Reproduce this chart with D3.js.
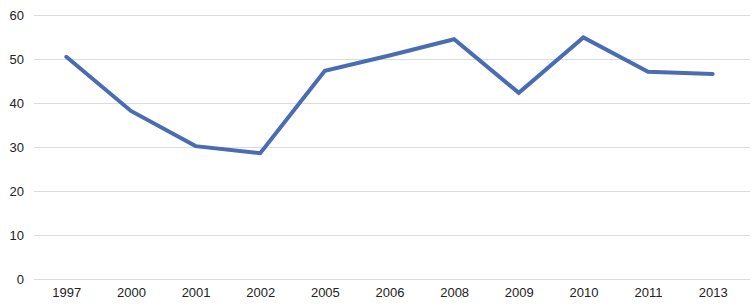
<!DOCTYPE html>
<html>
<head>
<meta charset="utf-8">
<script src="https://cdn.jsdelivr.net/npm/d3@7"></script>
<style>
  body { margin: 0; background: #fff; }
  svg text { font-family: "Liberation Sans", Arial, sans-serif; font-size: 13px; fill: #222; }
</style>
</head>
<body>
<div id="chart"></div>
<script>
// Chart data
const years = ["1997", "2000", "2001", "2002", "2005", "2006", "2008", "2009", "2010", "2011", "2013"];
const values = [50.5, 38.2, 30.2, 28.6, 47.3, 50.8, 54.5, 42.3, 54.9, 47.1, 46.6];
const yTicks = [0, 10, 20, 30, 40, 50, 60];

const width = 753, height = 307;
const margin = { top: 15, right: 8, bottom: 28, left: 34 };

const svg = d3.select("#chart")
  .append("svg")
  .attr("width", width)
  .attr("height", height);

const x = d3.scalePoint()
  .domain(years)
  .range([margin.left, width - margin.right])
  .padding(0.5);

const y = d3.scaleLinear()
  .domain([0, 60])
  .range([height - margin.bottom, margin.top]);

// Gridlines + y labels
const yAxis = svg.append("g")
  .attr("transform", `translate(${margin.left},0)`)
  .call(d3.axisLeft(y).tickValues(yTicks).tickSize(-(width - margin.left - 3)).tickPadding(10));
yAxis.select(".domain").remove();
yAxis.selectAll(".tick line").attr("stroke", "#dcdcdc").attr("stroke-width", 1);

// x labels
const xAxis = svg.append("g")
  .attr("transform", `translate(0,${height - margin.bottom})`)
  .call(d3.axisBottom(x).tickSize(0).tickPadding(9));
xAxis.select(".domain").remove();

// Line
const line = d3.line()
  .x((d, i) => x(years[i]))
  .y(d => y(d));

svg.append("path")
  .datum(values)
  .attr("fill", "none")
  .attr("stroke", "#4a6cb3")
  .attr("stroke-width", 4)
  .attr("stroke-linejoin", "miter")
  .attr("stroke-linecap", "round")
  .attr("d", line);
</script>
</body>
</html>
